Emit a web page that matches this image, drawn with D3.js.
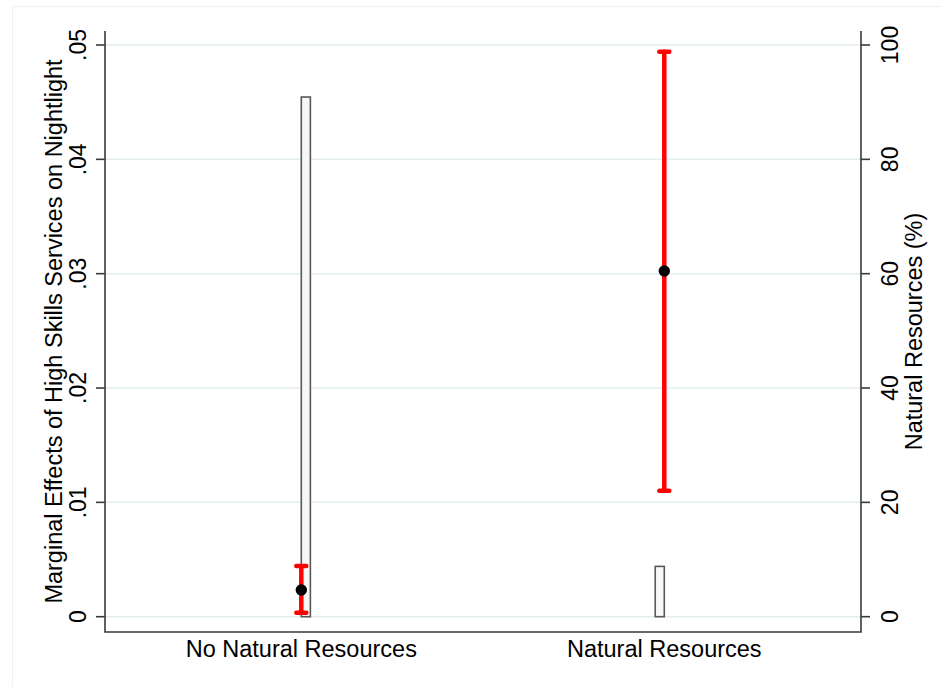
<!DOCTYPE html>
<html lang="en">
<head>
<meta charset="UTF-8">
<title>Marginal effects</title>
<script src="https://d3js.org/d3.v7.min.js"></script>
<style>
  body { margin: 0; background: #fff; }
  text { font-family: "Liberation Sans", Arial, sans-serif; fill: #000; }
</style>
</head>
<body>
<div id="chart"></div>
<script>
// categories and estimates
const categories = ["No Natural Resources", "Natural Resources"];
const catPos = [1, 2];
const estimate = [0.00234, 0.03024];
const ciLow = [0.00035, 0.01102];
const ciHigh = [0.00443, 0.04942];

// share of observations (%) on the right axis, histogram bins
const binStart = [1.0, 1.975];
const binWidth = 0.025;
const share = [90.9, 8.8];

const yTicks = [0, 0.01, 0.02, 0.03, 0.04, 0.05];
const yTickLabels = ["0", ".01", ".02", ".03", ".04", ".05"];
const y2Ticks = [0, 20, 40, 60, 80, 100];

const W = 942, H = 687;
const plot = { left: 105, right: 861, top: 31, bottom: 632 };

const svg = d3.select("#chart").append("svg")
    .attr("width", W)
    .attr("height", H);

// outer graph region border
svg.append("rect")
    .attr("x", 12.5).attr("y", 6.5)
    .attr("width", W).attr("height", H)
    .attr("fill", "#fff")
    .attr("stroke", "#eef1f1")
    .attr("stroke-width", 1);

const x = d3.scaleLinear().domain([1, 2]).range([301.3, 664.3]);
const y = d3.scaleLinear().domain([0, 0.05]).range([616.7, 45]);
const y2 = d3.scaleLinear().domain([0, 100]).range([616.7, 45]);

// grid lines
svg.append("g")
    .selectAll("line")
    .data(yTicks)
    .join("line")
    .attr("x1", plot.left).attr("x2", plot.right)
    .attr("y1", d => y(d)).attr("y2", d => y(d))
    .attr("stroke", "#e3eef1")
    .attr("stroke-width", 1.5);

// histogram bars (right axis)
svg.append("g")
    .selectAll("rect")
    .data(share)
    .join("rect")
    .attr("x", (d, i) => x(binStart[i]))
    .attr("width", (d, i) => x(binStart[i] + binWidth) - x(binStart[i]))
    .attr("y", d => y2(d))
    .attr("height", d => y2(0) - y2(d))
    .attr("fill", "#f7f7f7")
    .attr("stroke", "#595959")
    .attr("stroke-width", 1.6);

// confidence intervals
const ci = svg.append("g")
    .attr("stroke", "#ff0000")
    .attr("stroke-width", 4.5)
    .attr("stroke-linecap", "round");

ci.selectAll(".ci")
    .data(estimate)
    .join("line")
    .attr("class", "ci")
    .attr("x1", (d, i) => x(catPos[i])).attr("x2", (d, i) => x(catPos[i]))
    .attr("y1", (d, i) => y(ciLow[i])).attr("y2", (d, i) => y(ciHigh[i]));

[ciLow, ciHigh].forEach(bound => {
    ci.append("g")
        .selectAll("line")
        .data(bound)
        .join("line")
        .attr("x1", (d, i) => x(catPos[i]) - 5)
        .attr("x2", (d, i) => x(catPos[i]) + 5)
        .attr("y1", d => y(d)).attr("y2", d => y(d));
});

// point estimates
svg.append("g")
    .selectAll("circle")
    .data(estimate)
    .join("circle")
    .attr("cx", (d, i) => x(catPos[i]))
    .attr("cy", d => y(d))
    .attr("r", 5.7)
    .attr("fill", "#000");

// axes lines
const axisColor = "#3a3a3a";
svg.append("path")
    .attr("d", `M${plot.left},${plot.top}V${plot.bottom}H${plot.right}V${plot.top}`)
    .attr("fill", "none")
    .attr("stroke", axisColor)
    .attr("stroke-width", 1.6);

// left ticks
svg.append("g")
    .selectAll("line")
    .data(yTicks)
    .join("line")
    .attr("x1", plot.left - 9).attr("x2", plot.left)
    .attr("y1", d => y(d)).attr("y2", d => y(d))
    .attr("stroke", axisColor).attr("stroke-width", 1.6);

svg.append("g")
    .selectAll("text")
    .data(yTicks)
    .join("text")
    .attr("transform", d => `translate(86,${y(d)}) rotate(-90)`)
    .attr("text-anchor", "middle")
    .style("font-size", "23px")
    .text((d, i) => yTickLabels[i]);

// right ticks
svg.append("g")
    .selectAll("line")
    .data(y2Ticks)
    .join("line")
    .attr("x1", plot.right).attr("x2", plot.right + 9)
    .attr("y1", d => y2(d)).attr("y2", d => y2(d))
    .attr("stroke", axisColor).attr("stroke-width", 1.6);

svg.append("g")
    .selectAll("text")
    .data(y2Ticks)
    .join("text")
    .attr("transform", d => `translate(898,${y2(d)}) rotate(-90)`)
    .attr("text-anchor", "middle")
    .style("font-size", "23px")
    .text(d => d);

// category labels
svg.append("g")
    .selectAll("text")
    .data(categories)
    .join("text")
    .attr("x", (d, i) => x(catPos[i]))
    .attr("y", 657)
    .attr("text-anchor", "middle")
    .style("font-size", "23.5px")
    .text(d => d);

// axis titles
const midY = (plot.top + plot.bottom) / 2;
svg.append("text")
    .attr("transform", `translate(62,${midY}) rotate(-90)`)
    .attr("text-anchor", "middle")
    .style("font-size", "23.5px")
    .text("Marginal Effects of High Skills Services on Nightlight");

svg.append("text")
    .attr("transform", `translate(922,${midY}) rotate(-90)`)
    .attr("text-anchor", "middle")
    .style("font-size", "23.5px")
    .text("Natural Resources (%)");
</script>
</body>
</html>
